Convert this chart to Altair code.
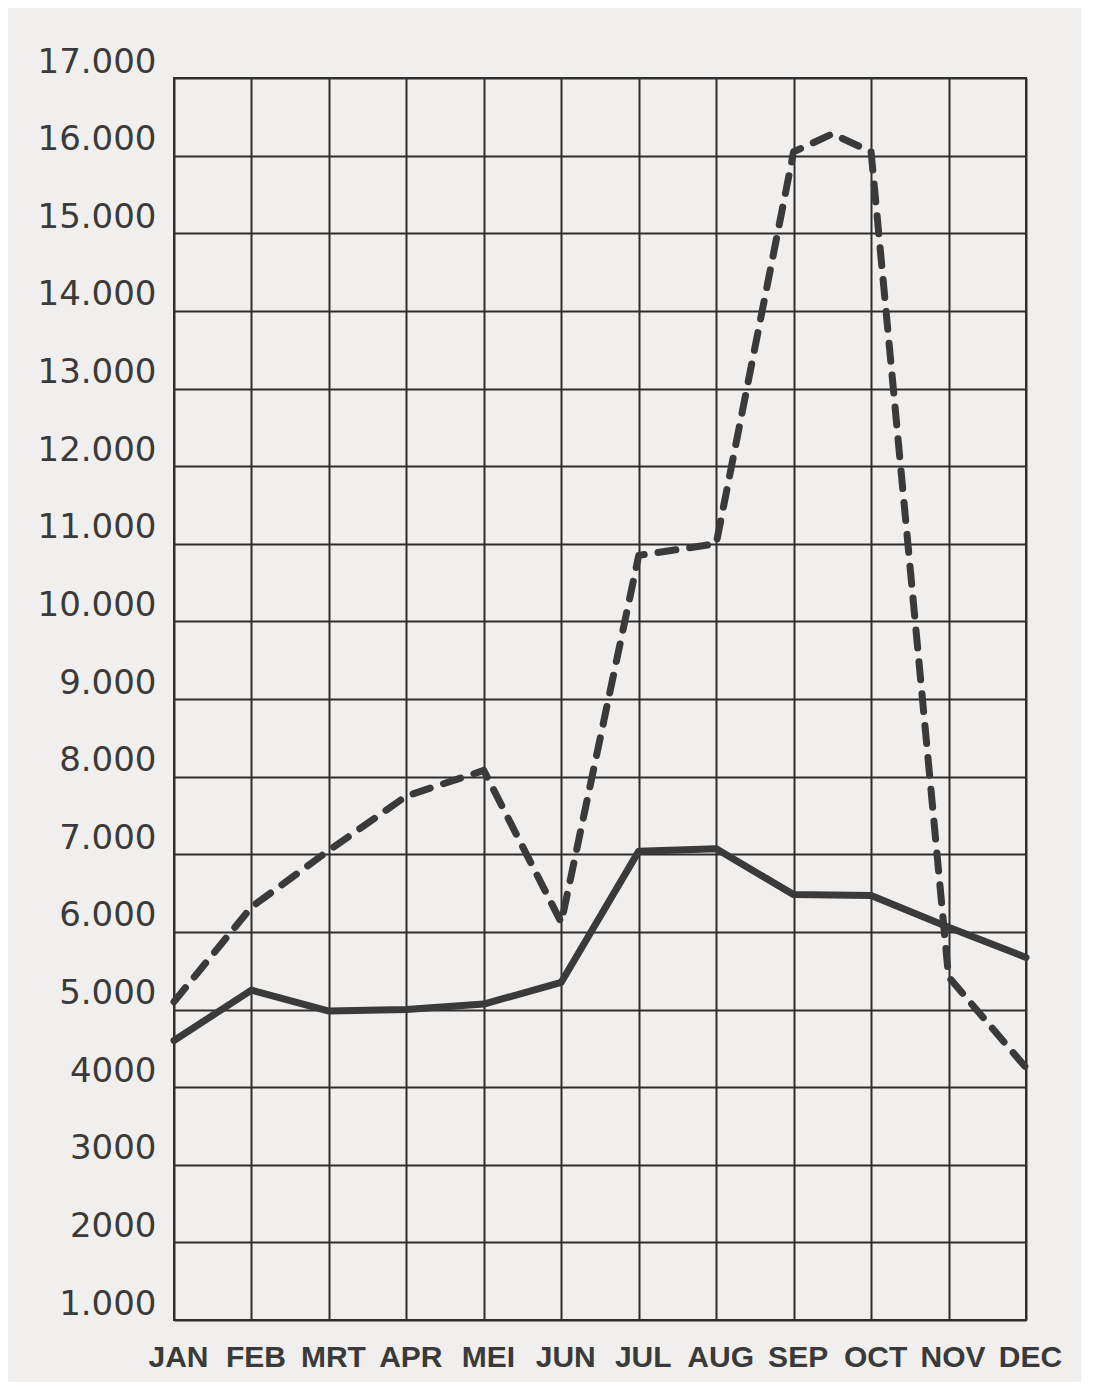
import altair as alt
import pandas as pd

# Month labels (x axis)
months = ["JAN", "FEB", "MRT", "APR", "MEI", "JUN", "JUL", "AUG", "SEP", "OCT", "NOV", "DEC"]

# Solid series (one value per month)
solid_values = [4600, 5250, 4980, 5000, 5070, 5350, 7040, 7070, 6480, 6470, 6060, 5670]

# Dashed series (positions in month index, incl. the hand-drawn peak between SEP and OCT)
dashed_pos = [0, 1, 2, 3, 4, 5, 6, 7, 8, 8.5, 9, 10, 11]
dashed_values = [5100, 6320, 7050, 7750, 8080, 6120, 10850, 11000, 16050, 16280, 16050, 5420, 4250]

# Y tick values and their labels as printed
y_ticks = list(range(1000, 18000, 1000))
y_labels = ["1.000", "2000", "3000", "4000", "5.000", "6.000", "7.000", "8.000", "9.000",
            "10.000", "11.000", "12.000", "13.000", "14.000", "15.000", "16.000", "17.000"]

solid_df = pd.DataFrame({"pos": list(range(len(months))), "value": solid_values})
dashed_df = pd.DataFrame({"pos": dashed_pos, "value": dashed_values})

ink = "#3a3a3a"
grid_ink = "#2e2e2e"
x_label_expr = "[" + ",".join("'%s'" % m for m in months) + "][datum.value]"
y_label_expr = "[" + ",".join("'%s'" % s for s in y_labels) + "][round(datum.value / 1000) - 1]"

x_enc = alt.X(
    "pos:Q",
    scale=alt.Scale(domain=[0, 11], nice=False, zero=False),
    axis=alt.Axis(
        values=list(range(len(months))),
        labelExpr=x_label_expr,
        labelOverlap=False,
        labelFlush=False,
        labelAlign="center",
        title=None,
        grid=True,
        gridColor=grid_ink,
        gridWidth=2,
        domain=False,
        ticks=False,
        labelFont="Liberation Sans Narrow, Liberation Sans",
        labelFontSize=30,
        labelFontWeight="bold",
        labelColor=ink,
        labelPadding=22,
        labelOffset=4,
        labelBaseline="top",
    ),
)
y_enc = alt.Y(
    "value:Q",
    scale=alt.Scale(domain=[1000, 17000], nice=False, zero=False),
    axis=alt.Axis(
        values=y_ticks,
        labelExpr=y_label_expr,
        labelOverlap=False,
        labelFlush=False,
        title=None,
        grid=True,
        gridColor=grid_ink,
        gridWidth=2,
        domain=False,
        ticks=False,
        labelFont="DejaVu Sans",
        labelFontSize=34,
        labelColor=ink,
        labelPadding=18,
        labelOffset=-16,
        labelBaseline="middle",
    ),
)

solid = alt.Chart(solid_df).mark_line(
    color=ink, strokeWidth=7, strokeJoin="round", strokeCap="round"
).encode(x=x_enc, y=y_enc)

dashed = alt.Chart(dashed_df).mark_line(
    color=ink, strokeWidth=7, strokeDash=[18, 14], strokeCap="round", strokeJoin="round"
).encode(x="pos:Q", y="value:Q")

chart = (
    alt.layer(solid, dashed)
    .properties(
        width=852,
        height=1242,
        autosize=alt.AutoSizeParams(type="none"),
        padding={"left": 166, "top": 70, "right": 55, "bottom": 62},
        background="#f1efed",
    )
    .configure_view(stroke=grid_ink, strokeWidth=2)
)

chart.save("out.html", embed_options={"renderer": "svg", "actions": False})
